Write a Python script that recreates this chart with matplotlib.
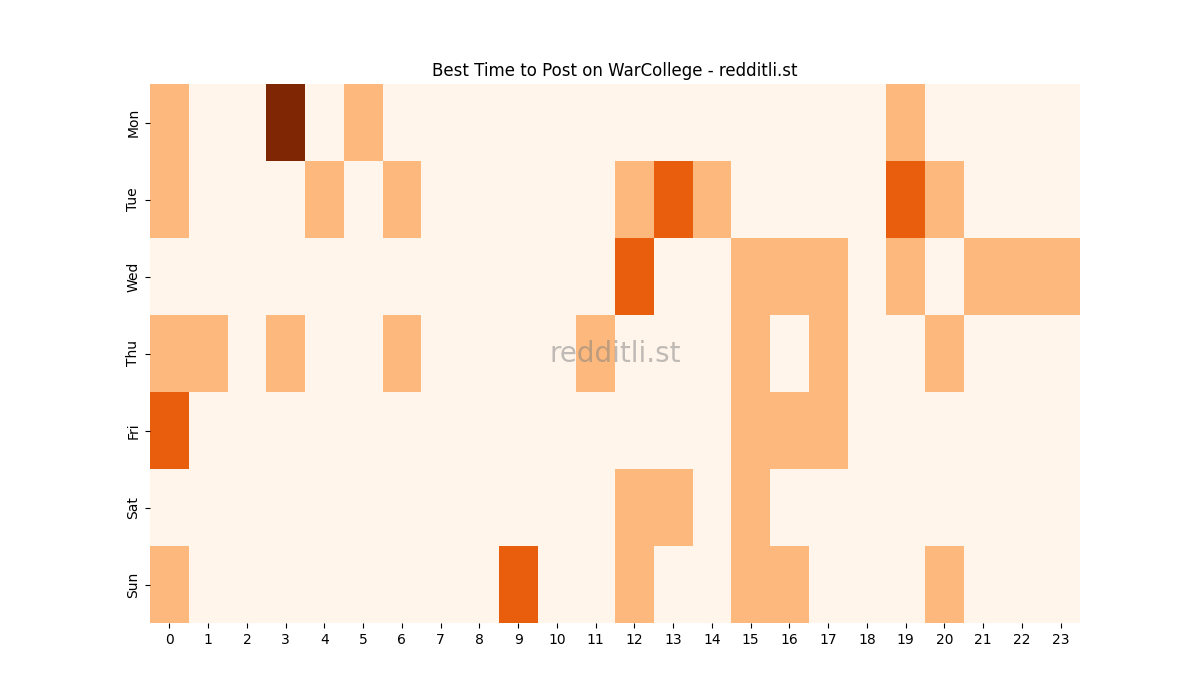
import numpy as np
import pandas as pd
import matplotlib
matplotlib.use("Agg")
import matplotlib.pyplot as plt
import seaborn as sns

days = ["Mon", "Tue", "Wed", "Thu", "Fri", "Sat", "Sun"]
hours = list(range(24))

# posts per (day, hour)
mon = {0: 1, 3: 3, 5: 1, 19: 1}
tue = {0: 1, 4: 1, 6: 1, 12: 1, 13: 2, 14: 1, 19: 2, 20: 1}
wed = {12: 2, 15: 1, 16: 1, 17: 1, 19: 1, 21: 1, 22: 1, 23: 1}
thu = {0: 1, 1: 1, 3: 1, 6: 1, 11: 1, 15: 1, 17: 1, 20: 1}
fri = {0: 2, 15: 1, 16: 1, 17: 1}
sat = {12: 1, 13: 1, 15: 1}
sun = {0: 1, 9: 2, 12: 1, 15: 1, 16: 1, 20: 1}

rows = [mon, tue, wed, thu, fri, sat, sun]
grid = pd.DataFrame([[r.get(h, 0) for h in hours] for r in rows],
                    index=days, columns=hours)

fig, ax = plt.subplots(figsize=(12, 7), dpi=100)
sns.heatmap(grid, cmap="Oranges", cbar=False, ax=ax)
ax.set_title("Best Time to Post on WarCollege - redditli.st")
ax.set_xlabel("")
ax.set_ylabel("")
ax.text(0.5, 0.5, "redditli.st", transform=ax.transAxes, fontsize=20,
        color="gray", alpha=0.5, ha="center", va="center")

plt.savefig("out.png")
